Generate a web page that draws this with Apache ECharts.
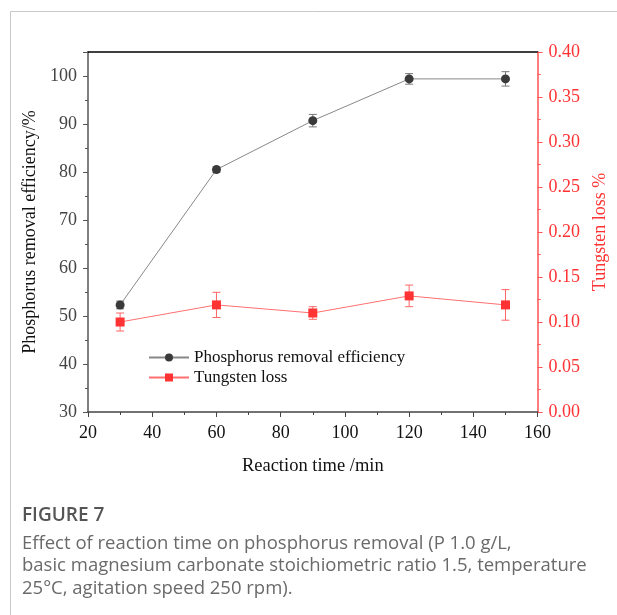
<!DOCTYPE html>
<html><head><meta charset="utf-8">
<script src="https://cdn.jsdelivr.net/npm/echarts@6/dist/echarts.min.js"></script>
<style>html,body{margin:0;padding:0;background:#fff}#c{width:617px;height:615px}</style>
</head><body><div id="c"></div>
<script>
const times = [30, 60, 90, 120, 150];
const phosphorus = [52.3, 80.5, 90.7, 99.4, 99.4];
const phosphorusErr = [0.8, 0.6, 1.3, 1.1, 1.5];
const tungsten = [0.100, 0.119, 0.110, 0.129, 0.119];
const tungstenErr = [0.010, 0.014, 0.007, 0.012, 0.017];
const captionTitle = 'FIGURE 7';
const captionLines = [
  'Effect of reaction time on phosphorus removal (P 1.0 g/L,',
  'basic magnesium carbonate stoichiometric ratio 1.5, temperature',
  '25°C, agitation speed 250 rpm).'
];

const serif = '"Liberation Serif","Times New Roman",serif';
const RED = '#ff3333';

function errSeries(vals, errs, yIdx, color) {
  return {
    type: 'custom', yAxisIndex: yIdx, z: 1, silent: true,
    data: times.map((t, i) => [t, vals[i] - errs[i], vals[i] + errs[i]]),
    renderItem: function (params, api) {
      const lo = api.coord([api.value(0), api.value(1)]);
      const hi = api.coord([api.value(0), api.value(2)]);
      const w = 4;
      const st = { stroke: color, lineWidth: 1 };
      return { type: 'group', children: [
        { type: 'line', shape: { x1: lo[0], y1: lo[1], x2: hi[0], y2: hi[1] }, style: st },
        { type: 'line', shape: { x1: lo[0] - w, y1: lo[1], x2: lo[0] + w, y2: lo[1] }, style: st },
        { type: 'line', shape: { x1: hi[0] - w, y1: hi[1], x2: hi[0] + w, y2: hi[1] }, style: st }
      ]};
    }
  };
}

const chart = echarts.init(document.getElementById('c'));
chart.setOption({
  animation: false,
  textStyle: { fontFamily: serif },
  grid: { left: 88, right: 79, top: 52, bottom: 203 },
  legend: {
    left: 143, top: 344, orient: 'vertical', itemGap: 3, itemWidth: 40, itemHeight: 10,
    data: ['Phosphorus removal efficiency', 'Tungsten loss'],
    textStyle: { fontFamily: serif, fontSize: 17, color: '#111' }
  },
  xAxis: [{
    type: 'value', min: 20, max: 160, interval: 20,
    name: 'Reaction time /min', nameLocation: 'middle', nameGap: 45,
    nameTextStyle: { fontFamily: serif, fontSize: 18.5, color: '#111' },
    axisLine: { lineStyle: { color: '#444', width: 1.5 } },
    axisTick: { length: 5, lineStyle: { color: '#444' } },
    minorTick: { show: true, splitNumber: 2, length: 3, lineStyle: { color: '#444' } },
    axisLabel: { fontFamily: serif, fontSize: 18, color: '#111', margin: 12 },
    splitLine: { show: false }
  }, {
    type: 'value', min: 20, max: 160, position: 'top',
    axisLine: { show: true, lineStyle: { color: '#000', width: 1.5 } },
    axisTick: { show: false }, axisLabel: { show: false }, splitLine: { show: false }
  }],
  yAxis: [{
    type: 'value', min: 30, max: 105, interval: 10,
    name: 'Phosphorus removal efficiency/%', nameLocation: 'middle', nameGap: 46,
    nameTextStyle: { fontFamily: serif, fontSize: 18, color: '#111' },
    axisLine: { show: true, lineStyle: { color: '#555', width: 1.5 } },
    axisTick: { length: 5, lineStyle: { color: '#555' } },
    minorTick: { show: true, splitNumber: 2, length: 3, lineStyle: { color: '#555' } },
    axisLabel: { fontFamily: serif, fontSize: 18, color: '#444', margin: 11,
      formatter: v => (v > 100 ? '' : v) },
    splitLine: { show: false }
  }, {
    type: 'value', min: 0, max: 0.4, interval: 0.05, position: 'right',
    name: 'Tungsten loss %', nameLocation: 'middle', nameGap: 51, nameRotate: 90,
    nameTextStyle: { fontFamily: serif, fontSize: 18, color: RED },
    axisLine: { show: true, lineStyle: { color: '#ff5555', width: 1.5 } },
    axisTick: { length: 5, lineStyle: { color: '#ff5555' } },
    minorTick: { show: true, splitNumber: 2, length: 3, lineStyle: { color: '#ff5555' } },
    axisLabel: { fontFamily: serif, fontSize: 18, color: RED, margin: 11,
      formatter: v => v.toFixed(2) },
    splitLine: { show: false }
  }],
  series: [
    errSeries(phosphorus, phosphorusErr, 0, '#777'),
    errSeries(tungsten, tungstenErr, 1, '#ff6666'),
    {
      name: 'Phosphorus removal efficiency', type: 'line', yAxisIndex: 0, z: 3,
      data: times.map((t, i) => [t, phosphorus[i]]),
      symbol: 'circle', symbolSize: 9,
      itemStyle: { color: '#3a3a3a' },
      lineStyle: { color: '#888', width: 1 }
    },
    {
      name: 'Tungsten loss', type: 'line', yAxisIndex: 1, z: 3,
      data: times.map((t, i) => [t, tungsten[i]]),
      symbol: 'rect', symbolSize: 9,
      itemStyle: { color: RED },
      lineStyle: { color: '#ff7070', width: 1 }
    }
  ],
  graphic: [
    { type: 'polyline', silent: true, shape: { points: [[10.5, 615], [10.5, 11.5], [617, 11.5]] },
      style: { stroke: '#c8c8c8', lineWidth: 1, fill: null } },
    { type: 'text', left: 22, top: 506, style: { text: captionTitle,
      font: '600 19px "Open Sans", sans-serif', fill: '#555' } },
    { type: 'text', left: 22, top: 532, style: { text: captionLines.join('\n'),
      font: '400 18.5px "Open Sans", sans-serif', fill: '#6a6a6a', lineHeight: 22.5 } }
  ]
});
</script></body></html>
